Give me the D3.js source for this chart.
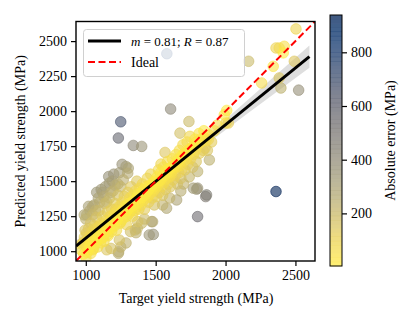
<!DOCTYPE html>
<html>
<head>
<meta charset="utf-8">
<script src="https://cdn.jsdelivr.net/npm/d3@7"></script>
<style>
  body { margin: 0; background: #fff; }
  text { font-family: "Liberation Serif", "DejaVu Serif", serif; }
</style>
</head>
<body>
<script>
// target (MPa) and predicted (MPa)
var target = [
  1580,1607,1738,1250,1233,1340,1400,1674,1567,1538,1288,1300,1304,1164,1168,1268,1078,1049,1007,989,
  1769,1793,1858,1864,1800,1650,1578,1471,1478,1454,1483,1359,1354,1368,1371,1288,1233,1235,1037,1001,
  2003,2020,1884,1800,1800,2361,2504,2384,2420,2413,2361,2341,2258,2165,2492,2384,2396,2523,2008,1991,
  1876,1853,
  965,980,990,1000,1005,1010,1015,1020,1025,1030,1035,1040,1045,1050,1055,1060,1065,1070,1075,1080,1085,1090,1095,1100,
  1105,1110,1115,1120,1125,1130,1135,1140,1145,1150,1155,1160,1165,1170,1175,1180,1185,1190,1195,1200,
  1205,1210,1215,1220,1225,1230,1235,1240,1245,1250,1255,1260,1265,1270,1275,1280,1285,1290,1295,1300,
  1305,1310,1315,1320,1325,1330,1335,1340,1345,1350,1355,1360,1365,1370,1375,1380,1385,1390,1395,1400,
  1405,1410,1415,1420,1425,1430,1435,1440,1445,1450,1455,1460,1465,1470,1475,1480,1485,1490,1495,1500,
  1505,1510,1515,1520,1525,1530,1535,1540,1545,1550,1555,1560,1565,1570,1575,1580,1585,1590,1595,1600,
  1605,1610,1615,1620,1625,1630,1640,1645,1650,1655,1660,1665,1670,1675,1680,1685,1690,1695,1700,
  1705,1710,1720,1725,1730,1740,1745,1750,1760,1765,1770,1780,1785,1790,1800,1810,1815,1825,1840,1845,
  1860,1870,1880,1900,1920,1940,
  1000,1030,1060,1090,1120,1140,1190,1210,1130,1100,1050,1200,1240,1260,1180,
  1240,1180,1320,1400,1420,1550,1600,1700,1740,1680,1250,1150,
  970,985,995,1010,1020,1030,1045,1055,1065,1075,1090,1100,1110,1120,1130,1145,1155,1165,1175,1185,
  1195,1205,1215,1225,1240,1250,1265,1280,1295,1310,1325,1340,1355,1370,1385,1400,1415,1430,1445,1460,
  1475,1490,1505,1520,1535,1550,1565,1580,1595,1610,1625,1640,1655,1670,1690,1710,1730,1750,1770,1790,
  1820,1850,1020,1070,1110,1150,1230
];
var predicted = [
  2410,2015,1926,1924,1808,1755,1748,1843,1705,1622,1605,1557,1593,1533,1486,1509,1420,1320,1259,1259,
  1450,1443,1390,1402,1247,1366,1307,1211,1211,1116,1120,1132,1152,1164,1211,1059,985,996,985,954,
  1915,1915,1652,1569,1450,1426,2587,2451,2463,2416,2451,2320,2201,2356,2356,2237,2165,2150,2005,1974,
  1795,1736,
  1010,1060,1100,1040,1130,990,1080,1160,1030,1110,1200,1060,1140,1010,1090,1180,1050,1130,1240,1100,1030,1170,1290,1120,
  1060,1200,1150,1250,1100,1180,1340,1130,1220,1170,1280,1110,1210,1380,1250,1160,1300,1220,1430,1190,
  1270,1340,1230,1150,1290,1400,1250,1320,1200,1460,1280,1350,1230,1300,1390,1260,1330,1190,1290,1420,
  1340,1270,1380,1310,1460,1350,1250,1400,1330,1290,1430,1370,1500,1340,1410,1300,1450,1380,1330,1420,
  1480,1360,1440,1300,1400,1460,1380,1520,1430,1350,1470,1410,1550,1440,1380,1490,1430,1330,1500,1450,
  1390,1530,1470,1580,1420,1500,1560,1460,1520,1400,1600,1490,1540,1440,1580,1520,1640,1480,1560,1530,
  1460,1600,1550,1660,1510,1590,1540,1690,1600,1480,1640,1560,1720,1610,1520,1680,1590,1760,1640,
  1700,1580,1660,1780,1620,1700,1820,1660,1740,1600,1690,1800,1720,1640,1760,1840,1700,1780,1720,1860,
  1790,1720,1830,1780,1860,1900,
  1230,1290,1330,1380,1420,1460,1500,1470,1390,1350,1260,1550,1560,1620,1420,
  1080,1020,1140,1200,1230,1330,1380,1480,1530,1430,1030,1010,
  1050,980,1150,1070,1010,1050,1100,1020,1160,1070,1110,1180,1090,1140,1070,1180,1120,1160,1200,1140,
  1250,1180,1300,1220,1260,1210,1290,1320,1250,1330,1290,1360,1310,1390,1350,1380,1400,1420,1390,1450,
  1470,1460,1480,1500,1510,1540,1510,1560,1590,1560,1600,1620,1650,1630,1670,1690,1720,1730,1750,1780,
  1800,1810,1320,1290,1440,1350,1480
];

// least squares fit shown in the legend
var fitSlope = 0.81;
var fitIntercept = 283;
var fitR = 0.87;
var fitRange = [930, 2600];
// half width of the confidence band along the fit
var bandX = [930, 1200, 1450, 1700, 2000, 2300, 2600];
var bandHalf = [40, 22, 12, 20, 38, 58, 80];

var limits = [930, 2640];
var ticks = [1000, 1500, 2000, 2500];
var yTicks = [1000, 1250, 1500, 1750, 2000, 2250, 2500];
var errDomain = [4, 939];
var errTicks = [200, 400, 600, 800];

var W = 411, H = 329;
var margin = {left: 76, top: 21.5};
var pw = 239, ph = 239.5;
var fs = 14;

var svg = d3.select("body").append("svg")
  .attr("width", W).attr("height", H);

var x = d3.scaleLinear().domain(limits).range([margin.left, margin.left + pw]);
var y = d3.scaleLinear().domain(limits).range([margin.top + ph, margin.top]);
var color = d3.scaleSequential(function(t) { return d3.interpolateCividis(1 - t); }).domain(errDomain);

svg.append("defs").append("clipPath").attr("id", "clip")
  .append("rect").attr("x", margin.left).attr("y", margin.top).attr("width", pw).attr("height", ph);

var plot = svg.append("g").attr("clip-path", "url(#clip)");

// confidence band
var band = bandX.map(function(d, i) { return {x: d, lo: fitSlope * d + fitIntercept - bandHalf[i], hi: fitSlope * d + fitIntercept + bandHalf[i]}; });
plot.append("path")
  .datum(band)
  .attr("fill", "#c8c8c8").attr("opacity", 0.6)
  .attr("d", d3.area().curve(d3.curveMonotoneX)
    .x(function(d) { return x(d.x); })
    .y0(function(d) { return y(d.lo); })
    .y1(function(d) { return y(d.hi); }));

// points, yellow (small error) drawn last
var pts = target.map(function(t, i) { return {t: t, p: predicted[i], e: Math.abs(predicted[i] - t)}; });
pts.sort(function(a, b) { return b.e - a.e; });
plot.selectAll(".dot").data(pts).enter().append("circle")
  .attr("cx", function(d) { return x(d.t); })
  .attr("cy", function(d) { return y(d.p); })
  .attr("r", 5.3)
  .attr("fill", function(d) { return color(d.e); })
  .attr("fill-opacity", 0.6)
  .attr("stroke", function(d) { return color(d.e); })
  .attr("stroke-opacity", 0.6)
  .attr("stroke-width", 1);

// fit line
plot.append("line")
  .attr("x1", x(fitRange[0])).attr("y1", y(fitSlope * fitRange[0] + fitIntercept))
  .attr("x2", x(fitRange[1])).attr("y2", y(fitSlope * fitRange[1] + fitIntercept))
  .attr("stroke", "#000").attr("stroke-width", 3);

// ideal line
plot.append("line")
  .attr("x1", x(limits[0])).attr("y1", y(limits[0]))
  .attr("x2", x(limits[1])).attr("y2", y(limits[1]))
  .attr("stroke", "#ff0000").attr("stroke-width", 2).attr("stroke-dasharray", "7,3.5");

// axes
var xAxis = svg.append("g").attr("transform", "translate(0," + (margin.top + ph) + ")")
  .call(d3.axisBottom(x).tickValues(ticks).tickSize(5).tickPadding(4).tickFormat(d3.format("d")));
var yAxis = svg.append("g").attr("transform", "translate(" + margin.left + ",0)")
  .call(d3.axisLeft(y).tickValues(yTicks).tickSize(5).tickPadding(4).tickFormat(d3.format("d")));
[xAxis, yAxis].forEach(function(a) {
  a.select(".domain").remove();
  a.selectAll("line").attr("stroke", "#000").attr("stroke-width", 1.2);
  a.selectAll("text").attr("font-family", "Liberation Serif").attr("font-size", fs).attr("fill", "#000");
});

svg.append("rect")
  .attr("x", margin.left).attr("y", margin.top).attr("width", pw).attr("height", ph)
  .attr("fill", "none").attr("stroke", "#000").attr("stroke-width", 1.4);

svg.append("text").attr("x", margin.left + pw / 2 + 0.5).attr("y", 303)
  .attr("text-anchor", "middle").attr("font-size", fs).text("Target yield strength (MPa)");
svg.append("text").attr("transform", "translate(25," + (margin.top + ph / 2) + ") rotate(-90)")
  .attr("text-anchor", "middle").attr("font-size", fs).text("Predicted yield strength (MPa)");

// legend
var lg = svg.append("g");
lg.append("rect").attr("x", 83.5).attr("y", 29.5).attr("width", 161).attr("height", 47).attr("rx", 3)
  .attr("fill", "#fff").attr("fill-opacity", 0.8).attr("stroke", "#d0d0d0").attr("stroke-width", 1);
lg.append("line").attr("x1", 88).attr("x2", 121).attr("y1", 41).attr("y2", 41)
  .attr("stroke", "#000").attr("stroke-width", 3);
lg.append("line").attr("x1", 88).attr("x2", 121).attr("y1", 62).attr("y2", 62)
  .attr("stroke", "#ff0000").attr("stroke-width", 2).attr("stroke-dasharray", "7,3.5");
var lt = lg.append("text").attr("x", 131).attr("y", 45.5)
  .attr("font-family", "Liberation Sans").attr("font-size", 13);
lt.append("tspan").attr("font-style", "italic").text("m");
lt.append("tspan").text(" = 0.81; ");
lt.append("tspan").attr("font-style", "italic").text("R");
lt.append("tspan").text(" = " + fitR.toFixed(2));
lg.append("text").attr("x", 131).attr("y", 66.5).attr("font-size", fs).text("Ideal");

// colorbar
var cb = {x: 330, y: 15, w: 12, h: 251};
var cy = d3.scaleLinear().domain(errDomain).range([cb.y + cb.h, cb.y]);
var nb = 60;
var steps = d3.range(nb).map(function(i) { return errDomain[0] + (errDomain[1] - errDomain[0]) * i / nb; });
svg.append("g").selectAll("rect").data(steps).enter().append("rect")
  .attr("x", cb.x).attr("width", cb.w)
  .attr("y", function(d) { return cy(d + (errDomain[1] - errDomain[0]) / nb); })
  .attr("height", cb.h / nb + 0.3)
  .attr("fill", function(d) { return color(d); })
  .attr("fill-opacity", 0.75);
svg.append("rect").attr("x", cb.x).attr("y", cb.y).attr("width", cb.w).attr("height", cb.h)
  .attr("fill", "none").attr("stroke", "#000").attr("stroke-width", 1);
var cAxis = svg.append("g").attr("transform", "translate(" + (cb.x + cb.w) + ",0)")
  .call(d3.axisRight(cy).tickValues(errTicks).tickSize(5).tickPadding(4).tickFormat(d3.format("d")));
cAxis.select(".domain").remove();
cAxis.selectAll("line").attr("stroke", "#000").attr("stroke-width", 1.2);
cAxis.selectAll("text").attr("font-family", "Liberation Serif").attr("font-size", fs).attr("fill", "#000");
svg.append("text").attr("transform", "translate(395," + (cb.y + cb.h / 2) + ") rotate(-90)")
  .attr("text-anchor", "middle").attr("font-size", fs).text("Absolute error (MPa)");
</script>
</body>
</html>
